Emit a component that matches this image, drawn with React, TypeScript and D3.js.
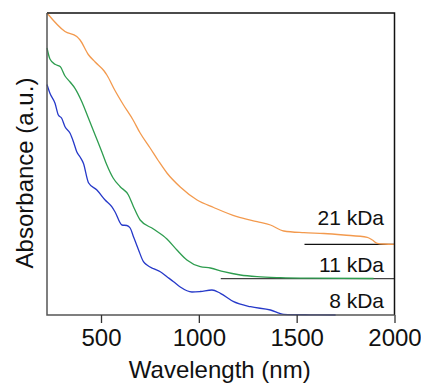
import React, { useRef, useEffect } from "react";
import * as d3 from "d3";

// wavelength (nm) / absorbance (a.u., offset traces)
const wl21 = [224, 316, 376, 393, 435, 470, 516, 530, 570, 615, 664, 700, 751, 794, 837, 905, 991, 1076, 1195, 1298, 1366, 1434, 1537, 1639, 1740, 1861, 1887, 1912, 1946, 2000];
const abs21 = [3.02, 2.835, 2.785, 2.75, 2.605, 2.53, 2.44, 2.4, 2.25, 2.1, 1.95, 1.82, 1.67, 1.54, 1.42, 1.28, 1.15, 1.075, 0.983, 0.933, 0.9, 0.84, 0.823, 0.815, 0.8, 0.777, 0.75, 0.717, 0.71, 0.707];

const wl11 = [224, 239, 265, 291, 316, 342, 367, 402, 436, 470, 504, 530, 562, 598, 640, 666, 700, 768, 837, 888, 939, 1007, 1059, 1127, 1212, 1298, 1417, 1571, 1893];
const abs11 = [2.67, 2.56, 2.507, 2.485, 2.39, 2.33, 2.267, 2.133, 1.967, 1.8, 1.633, 1.5, 1.37, 1.283, 1.2, 1.083, 0.95, 0.86, 0.76, 0.65, 0.55, 0.483, 0.47, 0.433, 0.4, 0.383, 0.373, 0.368, 0.365];

const wl8 = [224, 239, 265, 282, 299, 316, 342, 359, 376, 393, 410, 436, 479, 521, 555, 572, 607, 632, 649, 666, 692, 717, 735, 768, 803, 837, 871, 905, 965, 1007, 1067, 1110, 1178, 1264, 1366, 1434, 1571, 1699];
const abs8 = [2.305, 2.217, 2.117, 2.0, 1.967, 1.883, 1.817, 1.733, 1.633, 1.58, 1.517, 1.323, 1.25, 1.15, 1.083, 1.03, 0.9, 0.895, 0.87, 0.783, 0.65, 0.533, 0.5, 0.463, 0.433, 0.383, 0.333, 0.28, 0.23, 0.235, 0.25, 0.217, 0.133, 0.083, 0.05, 0.007, 0.002, 0];

const labels = ["21 kDa", "11 kDa", "8 kDa"];
const baselines = [0.707, 0.363, 0];
const baseStart = [1540, 1112, 224];
const colors = ["#F39A4E", "#2E9D4F", "#2639C9"];
const xTicks = [500, 1000, 1500, 2000];

const App = () => {
  const ref = useRef<SVGSVGElement>(null);

  useEffect(() => {
    const width = 421;
    const height = 383;
    const left = 47, right = 394.5, top = 13, bottom = 315;
    const font = "'Liberation Sans', Arial, Helvetica, sans-serif";

    const svg = d3.select(ref.current);
    svg.selectAll("*").remove();
    svg.attr("width", width).attr("height", height).style("font-family", font);

    const x = d3.scaleLinear().domain([224, 2000]).range([left, right]);
    const y = d3.scaleLinear().domain([0, 3.02]).range([bottom, top]);

    const series = [
      { wl: wl21, abs: abs21 },
      { wl: wl11, abs: abs11 },
      { wl: wl8, abs: abs8 },
    ];

    // baselines for the offset traces
    baselines.forEach((b, i) => {
      if (i === 2) return;
      svg.append("line")
        .attr("x1", x(baseStart[i])).attr("x2", right)
        .attr("y1", y(b)).attr("y2", y(b))
        .attr("stroke", i === 0 ? "#111" : "#444")
        .attr("stroke-width", 1.3);
    });

    const line = d3.line<[number, number]>()
      .x(d => x(d[0]))
      .y(d => y(d[1]))
      .curve(d3.curveMonotoneX);

    series.forEach((s, i) => {
      const pts: [number, number][] = s.wl.map((w, j) => [w, s.abs[j]]);
      svg.append("path")
        .attr("d", line(pts))
        .attr("fill", "none")
        .attr("stroke", colors[i])
        .attr("stroke-width", 1.3);
    });

    // frame
    svg.append("path")
      .attr("d", `M${left},${top}H${right}V${bottom}`)
      .attr("fill", "none").attr("stroke", "#111").attr("stroke-width", 1.5);
    svg.append("path")
      .attr("d", `M${left},${top}V${bottom}H${right}`)
      .attr("fill", "none").attr("stroke", "#555").attr("stroke-width", 1.5);

    const axis = svg.append("g")
      .attr("transform", `translate(0,${bottom})`)
      .call(d3.axisBottom(x).tickValues(xTicks).tickSize(8).tickPadding(6).tickFormat(d3.format("d")));
    axis.select(".domain").remove();
    axis.selectAll(".tick line").attr("stroke", "#333").attr("stroke-width", 1.3);
    axis.selectAll(".tick text")
      .attr("font-size", 24).attr("font-family", font).attr("fill", "#111");

    svg.append("text")
      .attr("x", (left + right) / 2 - 1).attr("y", 378)
      .attr("text-anchor", "middle").attr("font-size", 24).attr("fill", "#111")
      .text("Wavelength (nm)");

    svg.append("text")
      .attr("transform", `translate(33,173) rotate(-90)`)
      .attr("text-anchor", "middle").attr("font-size", 24).attr("fill", "#111")
      .text("Absorbance (a.u.)");

    const labelY = [225, 271.5, 308];
    labels.forEach((l, i) => {
      svg.append("text")
        .attr("x", 384).attr("y", labelY[i])
        .attr("text-anchor", "end").attr("font-size", 21).attr("fill", "#111")
        .text(l);
    });
  }, []);

  return <svg ref={ref} style={{ position: "absolute", left: 0, top: 0 }} />;
};

export default App;
